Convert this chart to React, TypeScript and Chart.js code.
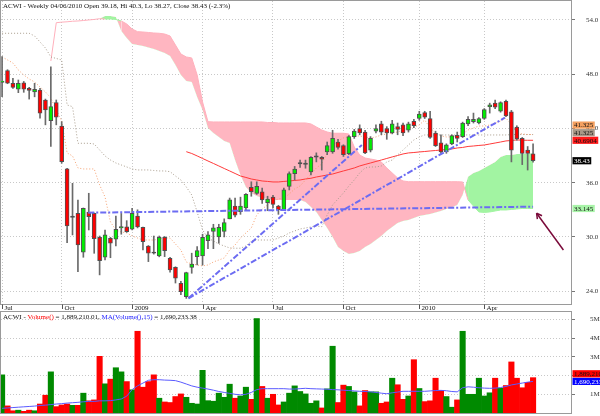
import { useEffect, useRef } from "react";
import { Chart, registerables } from "chart.js";

Chart.register(...registerables);

const FONT = "Liberation Serif";

const titleText = "ACWI - Weekly 04/06/2010 Open 39.18, Hi 40.3, Lo 38.27, Close 38.43 (-2.3%)";
const dateTickIdx = [0, 11, 24, 37, 50, 63, 77, 89];
const dateTickLabels = ["Jul", "Oct", "2009", "Apr", "Jul", "Oct", "2010", "Apr"];
const priceTicks = [24, 30, 36, 42, 48, 54];
const volumeTicks = [1, 2, 3, 4, 5];

const opens = [47.1, 48.39, 47.0, 46.35, 47.05, 46.45, 46.05, 46.25, 45.15, 42.86, 44.85, 42.27, 37.52, 32.24, 32.62, 28.3, 32.76, 32.62, 29.96, 27.75,
  29.85, 29.74, 31.0, 31.13, 30.85, 32.3, 31.07, 29.0, 28.26, 27.89, 29.96, 27.64, 26.64, 24.87, 23.4, 26.64, 27.82, 27.89, 29.59, 30.6,
  30.0, 30.6, 32.0, 33.4, 32.8, 33.2, 35.5, 34.8, 35.0, 33.8, 34.4, 33.4, 33.0, 35.6, 37.0, 38.15, 38.1, 37.2, 38.9, 38.8,
  39.4, 39.4, 40.5, 40.1, 39.2, 41.1, 42.0, 41.6, 39.6, 41.7, 42.5, 42.0, 41.5, 42.2, 42.4, 41.8, 42.8, 43.1, 43.75, 43.1,
  41.5, 40.4, 39.4, 40.3, 41.25, 41.1, 42.5, 42.75, 42.6, 43.1, 44.4, 44.8, 43.9, 45.0, 43.85, 42.15, 40.9, 39.6, 39.18];
const highs = [49.94, 48.5, 47.55, 47.36, 47.2, 46.55, 47.0, 46.44, 45.25, 48.83, 45.15, 42.75, 37.6, 35.93, 34.09, 33.2, 34.83, 32.65, 30.1, 30.77,
  29.95, 32.3, 32.6, 31.8, 33.17, 33.0, 31.1, 29.05, 30.1, 30.1, 30.05, 27.75, 26.7, 25.1, 26.1, 28.2, 28.93, 30.3, 30.6, 31.4,
  31.4, 32.0, 34.3, 34.3, 34.4, 34.8, 36.1, 36.1, 35.4, 34.5, 34.6, 33.5, 35.4, 37.2, 37.8, 38.5, 38.5, 38.9, 39.3, 38.9,
  40.5, 41.8, 40.8, 40.2, 41.2, 41.9, 42.4, 41.8, 41.1, 42.4, 42.8, 42.2, 42.9, 42.6, 42.6, 42.7, 43.0, 43.9, 43.9, 43.9,
  41.7, 41.3, 40.3, 41.3, 41.6, 42.7, 43.3, 43.7, 43.2, 44.2, 44.8, 45.15, 44.95, 45.15, 44.0, 42.3, 41.0, 40.0, 40.3];
const lows = [45.52, 46.95, 46.44, 45.96, 46.0, 45.25, 45.5, 43.13, 42.4, 40.0, 42.4, 38.15, 29.37, 30.22, 26.16, 27.75, 30.77, 28.19, 25.8, 27.45,
  27.7, 29.0, 30.3, 30.5, 30.77, 31.0, 28.56, 27.27, 28.1, 27.8, 27.82, 26.1, 24.9, 23.6, 23.2, 25.98, 26.9, 26.9, 28.7, 28.7,
  29.3, 30.0, 32.0, 32.2, 32.5, 33.0, 34.5, 34.7, 33.7, 32.9, 33.2, 32.5, 33.0, 35.2, 36.3, 37.7, 37.6, 36.85, 38.3, 37.4,
  39.1, 39.25, 39.7, 38.9, 39.1, 40.9, 41.3, 39.2, 39.4, 41.5, 41.3, 40.8, 41.4, 41.3, 41.2, 41.6, 42.1, 42.9, 43.1, 40.9,
  40.0, 39.25, 39.25, 40.2, 40.5, 41.0, 42.3, 42.6, 42.5, 43.0, 43.7, 44.2, 43.8, 43.3, 38.3, 40.7, 38.0, 37.4, 38.27];
const closes = [47.25, 47.0, 46.55, 47.0, 46.35, 46.22, 46.33, 43.68, 44.05, 44.41, 43.25, 38.33, 31.21, 32.24, 29.11, 33.17, 32.24, 29.81, 27.37, 30.22,
  29.3, 30.85, 31.15, 30.58, 32.62, 31.1, 29.48, 28.19, 28.26, 29.96, 28.48, 26.35, 25.43, 23.95, 26.05, 27.0, 28.48, 29.96, 30.22, 31.0,
  31.05, 31.6, 34.1, 32.4, 33.4, 34.7, 35.0, 35.6, 34.1, 34.2, 33.6, 33.0, 35.2, 37.0, 37.5, 38.15, 38.1, 38.8, 38.9, 38.6,
  40.1, 40.9, 39.9, 39.1, 41.1, 41.7, 41.5, 39.3, 40.9, 42.0, 41.6, 41.5, 42.5, 41.9, 41.5, 42.5, 42.3, 43.6, 43.25, 41.0,
  40.1, 39.4, 40.2, 41.2, 40.9, 42.6, 43.0, 43.0, 43.1, 44.1, 44.6, 44.35, 44.85, 43.4, 39.6, 40.85, 39.25, 39.25, 38.43];

const volumes = [2.04, 0.38, 0.12, 0.15, 0.09, 0.15, 0.12, 0.48, 0.95, 2.2, 0.34, 0.43, 0.48, 0.41, 0.41, 1.06, 0.65, 0.7, 3.03, 1.56,
  1.81, 2.42, 2.2, 1.68, 1.24, 4.37, 1.38, 1.68, 2.04, 0.79, 0.59, 0.56, 0.88, 1.02, 0.84, 0.52, 0.48, 2.28, 0.66, 0.63,
  1.06, 0.84, 1.54, 0.79, 0.91, 1.38, 0.73, 5.05, 1.42, 0.79, 1.0, 0.43, 0.59, 1.06, 1.45, 1.15, 1.02, 0.52, 0.65, 0.27,
  1.29, 3.57, 0.56, 1.49, 1.42, 1.13, 0.38, 1.2, 1.13, 1.13, 0.52, 0.59, 1.86, 1.51, 0.73, 0.91, 2.85, 1.31, 0.61, 0.65,
  1.86, 1.2, 0.88, 0.31, 0.7, 4.37, 1.0, 1.0, 1.86, 0.91, 1.08, 1.86, 1.33, 1.47, 2.73, 1.86, 1.35, 1.64, 1.88921];
const volumeUp = [1, 0, 0, 1, 0, 0, 1, 0, 0, 1, 0, 0, 0, 1, 0, 1, 0, 0, 0, 1,
  0, 1, 1, 0, 1, 0, 0, 0, 0, 1, 0, 0, 0, 0, 1, 1, 1, 1, 1, 1,
  1, 1, 1, 0, 1, 1, 0, 1, 0, 1, 0, 0, 1, 1, 1, 1, 1, 1, 1, 0,
  1, 1, 0, 0, 1, 1, 0, 0, 1, 1, 0, 0, 1, 0, 0, 1, 0, 1, 0, 0,
  0, 0, 1, 1, 0, 1, 1, 1, 1, 1, 1, 0, 1, 0, 0, 0, 0, 0, 0];
const volumeMA15 = [0.25, 0.27, 0.29, 0.31, 0.33, 0.35, 0.37, 0.4, 0.42, 0.45, 0.48, 0.5, 0.53, 0.55, 0.57, 0.6, 0.62, 0.62, 0.65, 0.65,
  0.66, 0.7, 0.75, 0.9, 1.25, 1.45, 1.6, 1.75, 1.78, 1.78, 1.76, 1.75, 1.73, 1.65, 1.55, 1.45, 1.38, 1.33, 1.28, 1.22,
  1.15, 1.1, 1.05, 1.0, 0.97, 1.0, 1.1, 1.25, 1.3, 1.3, 1.3, 1.3, 1.3, 1.28, 1.28, 1.3, 1.32, 1.3, 1.29, 1.28,
  1.27, 1.25, 1.24, 1.22, 1.2, 1.18, 1.16, 1.15, 1.13, 1.1, 1.06, 1.03, 1.08, 1.12, 1.16, 1.16, 1.16, 1.16, 1.16, 1.18,
  1.2, 1.21, 1.19, 1.15, 1.13, 1.35, 1.4, 1.38, 1.35, 1.33, 1.32, 1.33, 1.36, 1.42, 1.5, 1.55, 1.6, 1.65, 1.690233];

const tenkan = [49.91, 49.58, 49.24, 48.47, 47.92, 47.47, 47.14, 46.59, 46.04, 45.37, 44.04, 42.83, 39.29, 38.96, 37.63, 37.52, 37.52, 37.52, 35.75, 34.42,
  31.65, 30.77, 30.55, 30.44, 30.11, 29.88, 29.66, 29.66, 29.66, 29.77, 29.88, 29.88, 29.22, 28.56, 27.23, 27.01, 26.9, 26.79, 26.9, 27.23,
  27.45, 27.67, 28.56, 29.11, 29.88, 30.44, 30.99, 32.43, 33.09, 33.54, 33.98, 34.2, 34.31, 34.75, 35.31, 35.64, 36.3, 36.96, 37.63, 38.07,
  39.29, 40.06, 40.62, 40.95, 41.06, 41.17, 41.17, 41.06, 40.95, 41.06, 41.28, 41.39, 41.5, 41.61, 41.83, 42.05, 42.16, 42.38, 42.94, 42.05,
  41.5, 41.17, 41.06, 41.06, 41.17, 41.39, 41.83, 42.05, 42.27, 42.27, 42.38, 42.61, 42.83, 43.16, 42.38, 41.5, 41.39, 41.33, 41.325];
const kijun = [52.53, 52.53, 52.53, 52.53, 52.53, 52.53, 52.23, 51.57, 50.9, 49.91, 49.74, 49.58, 44.6, 44.41, 40.36, 40.36, 40.36, 40.28, 39.62, 38.96,
  38.51, 38.18, 37.96, 37.74, 37.52, 37.41, 37.41, 37.41, 37.35, 37.3, 37.3, 37.22, 36.74, 36.3, 35.53, 34.64, 32.76, 30.77, 29.88, 29.55,
  29.22, 29.0, 28.78, 28.75, 28.75, 29.0, 29.55, 29.66, 29.66, 29.66, 29.66, 29.88, 30.11, 30.44, 30.66, 30.88, 30.99, 31.1, 31.21, 31.13,
  32.43, 33.54, 34.2, 34.86, 35.64, 36.3, 37.08, 37.63, 37.74, 37.74, 37.85, 38.29, 38.51, 39.07, 39.62, 40.17, 40.73, 41.06, 41.28, 41.28,
  41.28, 41.28, 41.28, 41.28, 41.28, 41.28, 41.28, 41.28, 41.28, 41.28, 41.28, 41.28, 41.28, 41.28, 41.325, 41.325, 41.325, 41.325, 41.325];
const movingAvg = [null, null, null, null, null, null, null, null, null, null, null, null, null, null, null, null, null, null, null, null,
  null, null, null, null, null, null, null, null, null, null, null, null, null, null, 39.43, 39.23, 38.96, 38.68, 38.4, 38.13,
  37.85, 37.57, 37.3, 37.02, 36.74, 36.58, 36.41, 36.3, 36.19, 36.14, 36.08, 36.08, 36.14, 36.19, 36.25, 36.3, 36.41, 36.49, 36.63, 36.74,
  36.85, 36.96, 37.13, 37.3, 37.46, 37.63, 37.85, 38.02, 38.18, 38.35, 38.51, 38.68, 38.85, 39.01, 39.18, 39.29, 39.34, 39.4, 39.45, 39.51,
  39.56, 39.62, 39.67, 39.73, 39.84, 39.9, 40.01, 40.06, 40.12, 40.17, 40.28, 40.39, 40.5, 40.62, 40.67, 40.73, 40.7, 40.69, 40.6904];
const senkouA = [null, null, null, null, null, null, null, null, null, 49.46, 53.7, 53.76, 53.8, 53.86, 53.89, 53.94, 54.0, 54.06, 54.14, 54.44,
  54.44, 54.33, 52.78, 52.01, 51.35, 51.23, 51.12, 50.96, 50.79, 50.57, 50.35, 50.02, 49.02, 47.92, 47.25, 47.14, 45.48, 44.04, 42.05, 41.5,
  41.06, 40.62, 40.39, 38.51, 36.85, 35.53, 34.86, 34.53, 34.31, 34.2, 34.09, 34.09, 34.09, 34.09, 34.09, 34.09, 33.87, 33.31, 32.76, 31.88,
  30.99, 30.0, 28.89, 28.45, 28.12, 28.23, 28.45, 28.89, 29.22, 29.66, 30.11, 30.66, 31.1, 31.54, 31.77, 31.88, 32.1, 32.32, 32.43, 32.54,
  32.71, 32.87, 33.09, 33.26, 33.54, 34.64, 36.67, 37.08, 37.3, 37.63, 37.96, 38.29, 38.85, 39.07, 39.07, 39.18, 39.18, 39.23, 39.25];
const senkouB = [null, null, null, null, null, null, null, null, null, 49.46, 53.7, 53.76, 53.8, 53.86, 53.89, 53.94, 54.0, 54.06, 54.14, 54.11,
  54.11, 54.06, 53.89, 53.56, 53.0, 52.71, 52.67, 52.62, 52.56, 52.53, 52.45, 52.23, 51.23, 50.24, 49.91, 49.8, 47.92, 44.93, 42.75, 42.72,
  42.72, 42.72, 42.72, 42.72, 42.72, 42.72, 42.72, 42.72, 42.72, 42.66, 42.66, 42.61, 42.61, 42.61, 42.61, 42.61, 42.61, 42.5, 42.17, 41.83,
  41.61, 41.47, 41.47, 41.47, 41.39, 39.95, 39.07, 38.73, 38.62, 38.51, 38.29, 37.63, 37.08, 36.52, 36.19, 36.11, 36.11, 36.11, 36.11, 36.11,
  36.11, 36.11, 36.11, 36.11, 36.11, 36.08, 34.09, 33.42, 32.76, 32.71, 32.76, 32.87, 32.98, 32.98, 33.04, 33.09, 33.15, 33.15, 33.145];

const trendFlat = [{ x: 15.9, y: 32.68 }, { x: 98, y: 33.35 }];
const trendSteep = [{ x: 34.4, y: 23.21 }, { x: 66.4, y: 40.17 }];
const trendLong = [{ x: 34.4, y: 23.21 }, { x: 92.8, y: 43.2 }];
const arrowLine = [{ x: 103.6, y: 28.56 }, { x: 98.65, y: 32.62 }];

const X_MIN = -0.2;
const X_MAX = 105;
const PRICE_MIN = 22.58;
const PRICE_MAX = 56.1;
const VOL_MAX = 5.4;

const PINK = "#ffb6c1";
const CLOUD_GREEN = "#a2f4a2";
const TREND_BLUE = "#6c6cf2";

function xScale(showGrid: boolean) {
  return {
    type: "linear" as const,
    min: X_MIN,
    max: X_MAX,
    offset: false,
    afterBuildTicks: (ax: any) => {
      ax.ticks = dateTickIdx.map((v) => ({ value: v }));
    },
    afterFit: (ax: any) => {
      ax.height = 0;
      ax.paddingLeft = 0;
      ax.paddingRight = 0;
    },
    ticks: { display: false },
    grid: { display: showGrid, color: "#c8c8c8", drawTicks: false, offset: false },
    border: { display: false, dash: [1, 2] },
  };
}

function yFit(ax: any) {
  ax.width = 29;
  ax.paddingTop = 0;
  ax.paddingBottom = 0;
}

function drawBadges(chart: any, items: { value: number; text: string; bg: string; fg: string }[]) {
  const ctx = chart.ctx;
  const yS = chart.scales.y;
  const arr = items.map((b, k) => ({ ...b, k, py: yS.getPixelForValue(b.value) }));
  arr.sort((a, b) => b.py - a.py || a.k - b.k);
  let prev = Infinity;
  ctx.save();
  ctx.font = `7px "${FONT}"`;
  ctx.textBaseline = "middle";
  ctx.textAlign = "left";
  const x0 = chart.chartArea.right + 1.5;
  for (const b of arr) {
    const y = Math.min(b.py, prev - 7.6);
    prev = y;
    const w = ctx.measureText(b.text).width + 3;
    ctx.fillStyle = b.bg;
    ctx.fillRect(x0, y - 3.6, w, 7.2);
    ctx.fillStyle = b.fg;
    ctx.fillText(b.text, x0 + 1.5, y + 0.4);
  }
  ctx.restore();
}

function frame(chart: any, extraBottom: number) {
  const { ctx, chartArea } = chart;
  ctx.save();
  ctx.strokeStyle = "#9a9a9a";
  ctx.lineWidth = 1;
  ctx.strokeRect(Math.floor(chartArea.left) - 0.5, Math.floor(chartArea.top) - 0.5,
    Math.round(chartArea.right - chartArea.left) + 1, Math.round(chartArea.bottom - chartArea.top) + extraBottom);
  ctx.restore();
}

export default function App() {
  const priceRef = useRef<HTMLCanvasElement>(null);
  const volRef = useRef<HTMLCanvasElement>(null);

  useEffect(() => {
    document.body.style.margin = "0";
    const idx = closes.map((_, i) => i);
    const isDoji = (i: number) => Math.abs(closes[i] - opens[i]) < 0.005;
    const bodyColors = idx.map((i) => (isDoji(i) ? "#4a4a4a" : closes[i] > opens[i] ? "#00ee00" : "#ff0000"));
    const bodyData = idx.map((i) => ({
      x: i,
      y: isDoji(i) ? [opens[i] - 0.07, opens[i] + 0.07] : [opens[i], closes[i]],
    }));
    const wickData = idx.map((i) => ({ x: i, y: [lows[i], highs[i]] }));
    const pts = (arr: (number | null)[]) => arr.map((v, i) => ({ x: i, y: v }));

    const n = closes.length - 1;

    const pricePlugins = [
      {
        id: "arrowHead",
        afterDatasetsDraw(chart: any) {
          const xs = chart.scales.x;
          const ys = chart.scales.y;
          const x1 = xs.getPixelForValue(arrowLine[0].x);
          const y1 = ys.getPixelForValue(arrowLine[0].y);
          const x2 = xs.getPixelForValue(arrowLine[1].x);
          const y2 = ys.getPixelForValue(arrowLine[1].y);
          const ang = Math.atan2(y2 - y1, x2 - x1);
          const ctx = chart.ctx;
          ctx.save();
          ctx.strokeStyle = "#7a0a3a";
          ctx.lineWidth = 1.5;
          ctx.beginPath();
          for (const d of [-0.5, 0.5]) {
            ctx.moveTo(x2, y2);
            ctx.lineTo(x2 - 6 * Math.cos(ang + d), y2 - 6 * Math.sin(ang + d));
          }
          ctx.stroke();
          ctx.restore();
        },
      },
      {
        id: "decor",
        afterDraw(chart: any) {
          const ctx = chart.ctx;
          frame(chart, 1);
          ctx.save();
          ctx.font = `7px "${FONT}"`;
          ctx.fillStyle = "#111";
          ctx.textBaseline = "alphabetic";
          ctx.textAlign = "left";
          ctx.fillText(titleText, 3, 7.5);
          const xs = chart.scales.x;
          const base = chart.chartArea.bottom;
          ctx.strokeStyle = "#555";
          ctx.lineWidth = 1;
          dateTickIdx.forEach((t, k) => {
            const px = Math.round(xs.getPixelForValue(t)) + 0.5;
            ctx.beginPath();
            ctx.moveTo(px, base + 0.5);
            ctx.lineTo(px, base + 5);
            ctx.stroke();
            ctx.fillText(dateTickLabels[k], px + 2, base + 6.3);
          });
          ctx.restore();
          drawBadges(chart, [
            { value: closes[n], text: String(closes[n]), bg: "#000000", fg: "#ffffff" },
            { value: movingAvg[n] as number, text: String(movingAvg[n]), bg: "#ff1a1a", fg: "#111" },
            { value: kijun[n], text: String(kijun[n]), bg: "#a89888", fg: "#111" },
            { value: tenkan[n], text: String(tenkan[n]), bg: "#f4a060", fg: "#111" },
            { value: senkouB[n] as number, text: String(senkouB[n]), bg: "#a8f4a8", fg: "#111" },
          ]);
        },
      },
    ];

    const priceChart = new Chart(priceRef.current as HTMLCanvasElement, {
      type: "bar",
      data: {
        datasets: [
          { type: "line", data: trendFlat, borderColor: TREND_BLUE, borderWidth: 2, borderDash: [6, 2, 2, 2], pointRadius: 0, order: 0 },
          { type: "line", data: trendSteep, borderColor: TREND_BLUE, borderWidth: 2, borderDash: [6, 2, 2, 2], pointRadius: 0, order: 0 },
          { type: "line", data: trendLong, borderColor: TREND_BLUE, borderWidth: 2, borderDash: [6, 2, 2, 2], pointRadius: 0, order: 0 },
          { type: "line", data: arrowLine, borderColor: "#7a0a3a", borderWidth: 1.5, pointRadius: 0, order: 0 },
          {
            type: "bar", data: bodyData as any, backgroundColor: bodyColors, borderColor: "#505050", borderWidth: 1,
            borderSkipped: false, barThickness: 4, grouped: false, order: 1,
          },
          { type: "bar", data: wickData as any, backgroundColor: "#6a6a6a", barThickness: 1, grouped: false, order: 2 },
          { type: "line", data: pts(tenkan), borderColor: "#f5a070", borderWidth: 1, borderDash: [1, 2], pointRadius: 0, order: 3 },
          { type: "line", data: pts(kijun), borderColor: "#a89c8c", borderWidth: 1, borderDash: [1, 2], pointRadius: 0, order: 3 },
          { type: "line", data: pts(movingAvg), borderColor: "#ff3a3a", borderWidth: 1, pointRadius: 0, order: 3 },
          { type: "line", data: pts(senkouA), borderColor: "rgba(0,0,0,0)", borderWidth: 0, pointRadius: 0, order: 6 },
          {
            type: "line", data: pts(senkouB), borderWidth: 1, pointRadius: 0, order: 5,
            segment: {
              borderColor: (c: any) =>
                (senkouB[c.p0DataIndex] as number) >= (senkouA[c.p0DataIndex] as number) ? "#ffb0bc" : CLOUD_GREEN,
            },
            fill: { target: 9, above: PINK, below: CLOUD_GREEN },
          },
        ] as any,
      },
      options: {
        responsive: false,
        animation: false,
        events: [],
        layout: { padding: { left: 1, top: 1, right: 0, bottom: 7 } },
        plugins: { legend: { display: false }, tooltip: { enabled: false } },
        scales: {
          x: xScale(true) as any,
          y: {
            type: "linear",
            position: "right",
            min: PRICE_MIN,
            max: PRICE_MAX,
            afterBuildTicks: (ax: any) => {
              ax.ticks = priceTicks.map((v) => ({ value: v }));
            },
            afterFit: yFit,
            ticks: {
              callback: (v: any) => Number(v).toFixed(1),
              font: { family: FONT, size: 7 },
              color: "#333",
              padding: 11,
            },
            grid: { color: "#c8c8c8", tickLength: 4, tickColor: "#777", drawTicks: true },
            border: { display: false, dash: [1, 2] },
          },
        },
      },
      plugins: pricePlugins as any,
    });

    const volTitle = [
      { t: "ACWI - ", c: "#111" },
      { t: "Volume()", c: "#ff0000" },
      { t: " = 1,889,210.01, ", c: "#111" },
      { t: "MA(Volume(),15)", c: "#2020ff" },
      { t: " = 1,690,233.38", c: "#111" },
    ];

    const volChart = new Chart(volRef.current as HTMLCanvasElement, {
      type: "bar",
      data: {
        datasets: [
          { type: "line", data: pts(volumeMA15), borderColor: "#5a5aff", borderWidth: 1, pointRadius: 0, order: 0 },
          {
            type: "bar",
            data: idx.map((i) => ({ x: i, y: volumes[i] })),
            backgroundColor: idx.map((i) => (volumeUp[i] ? "#008a00" : "#ff0000")),
            barPercentage: 1,
            categoryPercentage: 1,
            order: 1,
          },
        ] as any,
      },
      options: {
        responsive: false,
        animation: false,
        events: [],
        layout: { padding: { left: 1, top: 1, right: 0, bottom: 3 } },
        plugins: { legend: { display: false }, tooltip: { enabled: false } },
        scales: {
          x: xScale(false) as any,
          y: {
            type: "linear",
            position: "right",
            min: 0,
            max: VOL_MAX,
            afterBuildTicks: (ax: any) => {
              ax.ticks = volumeTicks.map((v) => ({ value: v }));
            },
            afterFit: yFit,
            ticks: {
              callback: (v: any) => `${v}M`,
              font: { family: FONT, size: 7 },
              color: "#333",
              padding: 15,
            },
            grid: { color: "#c8c8c8", tickLength: 4, tickColor: "#777", drawTicks: true },
            border: { display: false, dash: [1, 2] },
          },
        },
      },
      plugins: [
        {
          id: "volDecor",
          afterDraw(chart: any) {
            frame(chart, 1);
            const ctx = chart.ctx;
            ctx.save();
            ctx.font = `7px "${FONT}"`;
            ctx.textBaseline = "alphabetic";
            let x = 3;
            for (const p of volTitle) {
              ctx.fillStyle = p.c;
              ctx.fillText(p.t, x, 8);
              x += ctx.measureText(p.t).width;
            }
            ctx.restore();
            drawBadges(chart, [
              { value: volumeMA15[n], text: Math.round(volumeMA15[n] * 1e6).toLocaleString("en-US"), bg: "#0000ff", fg: "#ffffff" },
              { value: volumes[n], text: Math.round(volumes[n] * 1e6).toLocaleString("en-US"), bg: "#ff0000", fg: "#111" },
            ]);
          },
        },
      ] as any,
    });

    return () => {
      priceChart.destroy();
      volChart.destroy();
    };
  }, []);

  return (
    <div style={{ position: "relative", width: 600, height: 416, background: "#ffffff", overflow: "hidden" }}>
      <canvas ref={priceRef} width={600} height={311} style={{ position: "absolute", left: 0, top: 0 }} />
      <canvas ref={volRef} width={600} height={105} style={{ position: "absolute", left: 0, top: 311 }} />
    </div>
  );
}
